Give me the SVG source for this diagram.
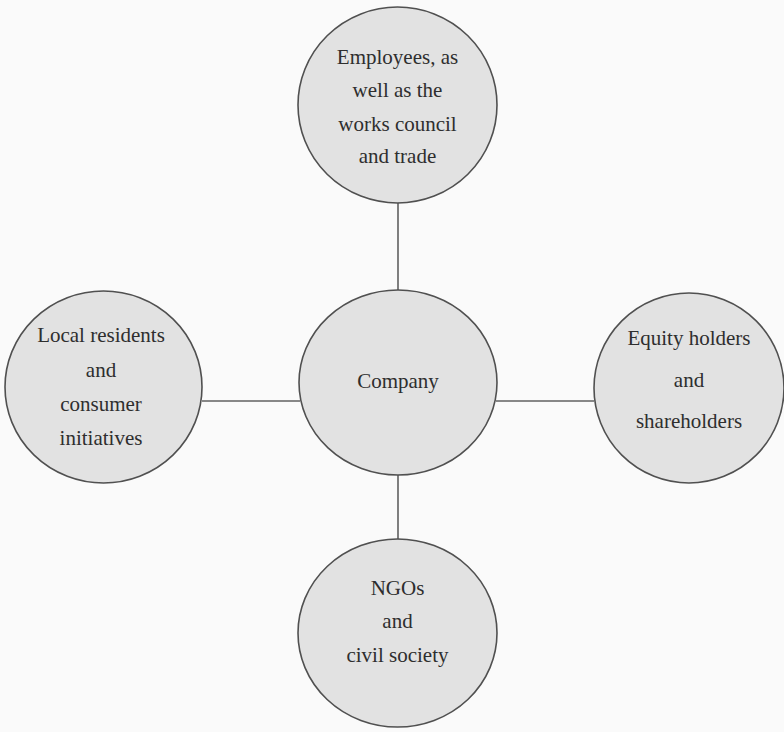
<svg xmlns="http://www.w3.org/2000/svg" width="784" height="732" viewBox="0 0 784 732">
<style>
.node{fill:#e2e2e2;stroke:#505050;stroke-width:1.6}
.conn{stroke:#606060;stroke-width:1.6;fill:none}
text{font-family:"Liberation Serif","Times New Roman",serif;font-size:21px;fill:#2e2e2e;text-anchor:middle}
</style>
<rect width="784" height="732" fill="#fafafa"/>
<g id="connectors">
<line class="conn" x1="398" y1="201" x2="398" y2="290"/>
<line class="conn" x1="398" y1="475" x2="398" y2="539"/>
<line class="conn" x1="202" y1="401" x2="300" y2="401"/>
<line class="conn" x1="496" y1="401" x2="594" y2="401"/>
</g>
<g id="employees">
<ellipse class="node" cx="397.5" cy="105" rx="99.5" ry="98"/>
<text x="397.5" y="64">Employees, as</text>
<text x="397.5" y="97">well as the</text>
<text x="397.5" y="131">works council</text>
<text x="397.5" y="163">and trade</text>
</g>
<g id="company">
<ellipse class="node" cx="398" cy="382.5" rx="99" ry="92.5"/>
<text x="398" y="388">Company</text>
</g>
<g id="local">
<ellipse class="node" cx="103.5" cy="387" rx="98.5" ry="96"/>
<text x="101" y="342">Local residents</text>
<text x="101" y="377">and</text>
<text x="101" y="411">consumer</text>
<text x="101" y="445">initiatives</text>
</g>
<g id="equity">
<ellipse class="node" cx="689" cy="388" rx="95" ry="95"/>
<text x="689" y="345">Equity holders</text>
<text x="689" y="387">and</text>
<text x="689" y="428">shareholders</text>
</g>
<g id="ngos">
<ellipse class="node" cx="397.5" cy="633" rx="99.5" ry="94"/>
<text x="397.5" y="595">NGOs</text>
<text x="397.5" y="628">and</text>
<text x="397.5" y="662">civil society</text>
</g>
</svg>
